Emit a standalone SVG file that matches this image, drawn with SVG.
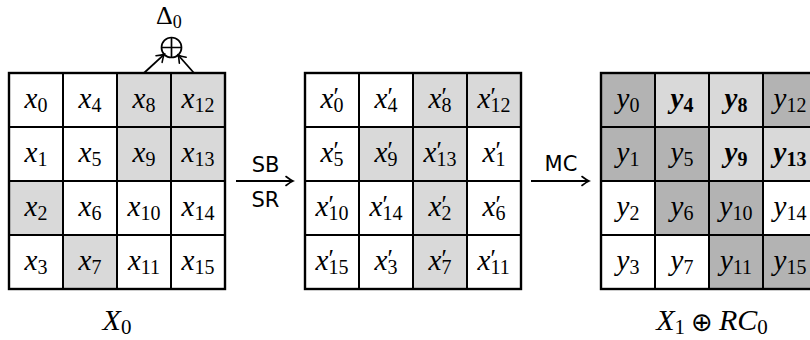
<svg xmlns="http://www.w3.org/2000/svg" width="810" height="340" viewBox="0 0 810 340">
<style>
.c{stroke:#000;stroke-width:2}
.w{fill:#fff}
.l{fill:#d9d9d9}
.d{fill:#b3b3b3}
.frame{fill:none;stroke:#000;stroke-width:2.4}
.m{font-family:"Liberation Serif",serif;font-size:29px;font-style:italic;fill:#000}
.s{font-size:20px;font-style:normal}
.b{font-weight:bold}
.p{font-style:normal;font-size:25px}
.op{font-family:"DejaVu Sans",sans-serif;font-size:21px;fill:#000}
.lab{font-family:"Liberation Serif",serif;font-size:30px;font-style:italic;fill:#000}
.lab .s{font-size:21px}
.dl{font-family:"Liberation Serif",serif;font-size:26px;fill:#000}
.dl .s{font-size:18px}
.xor{font-family:"DejaVu Sans",sans-serif;font-style:normal;font-size:26px}
.ln{fill:none;stroke:#000;stroke-width:1.8}
</style>
<defs>
<marker id="ah" markerUnits="userSpaceOnUse" markerWidth="12" markerHeight="12" viewBox="-10 -6 12 12" refX="0" refY="0" orient="auto">
<path d="M-7,-4.5 Q-2.5,-1 0,0 Q-2.5,1 -7,4.5" fill="none" stroke="#000" stroke-width="1.6" stroke-linecap="round"/>
</marker>
</defs>

<!-- state X0 -->
<g id="state-x">
<g id="x0"><rect class="c w" x="9" y="73" width="54" height="54"/><text class="m" x="36" y="108" text-anchor="middle">x<tspan class="s" dy="4">0</tspan></text></g>
<g id="x4"><rect class="c w" x="63" y="73" width="54" height="54"/><text class="m" x="90" y="108" text-anchor="middle">x<tspan class="s" dy="4">4</tspan></text></g>
<g id="x8"><rect class="c l" x="117" y="73" width="54" height="54"/><text class="m" x="144" y="108" text-anchor="middle">x<tspan class="s" dy="4">8</tspan></text></g>
<g id="x12"><rect class="c l" x="171" y="73" width="54" height="54"/><text class="m" x="198" y="108" text-anchor="middle">x<tspan class="s" dy="4">12</tspan></text></g>
<g id="x1"><rect class="c w" x="9" y="127" width="54" height="54"/><text class="m" x="36" y="162" text-anchor="middle">x<tspan class="s" dy="4">1</tspan></text></g>
<g id="x5"><rect class="c w" x="63" y="127" width="54" height="54"/><text class="m" x="90" y="162" text-anchor="middle">x<tspan class="s" dy="4">5</tspan></text></g>
<g id="x9"><rect class="c l" x="117" y="127" width="54" height="54"/><text class="m" x="144" y="162" text-anchor="middle">x<tspan class="s" dy="4">9</tspan></text></g>
<g id="x13"><rect class="c l" x="171" y="127" width="54" height="54"/><text class="m" x="198" y="162" text-anchor="middle">x<tspan class="s" dy="4">13</tspan></text></g>
<g id="x2"><rect class="c l" x="9" y="181" width="54" height="54"/><text class="m" x="36" y="216" text-anchor="middle">x<tspan class="s" dy="4">2</tspan></text></g>
<g id="x6"><rect class="c w" x="63" y="181" width="54" height="54"/><text class="m" x="90" y="216" text-anchor="middle">x<tspan class="s" dy="4">6</tspan></text></g>
<g id="x10"><rect class="c w" x="117" y="181" width="54" height="54"/><text class="m" x="144" y="216" text-anchor="middle">x<tspan class="s" dy="4">10</tspan></text></g>
<g id="x14"><rect class="c w" x="171" y="181" width="54" height="54"/><text class="m" x="198" y="216" text-anchor="middle">x<tspan class="s" dy="4">14</tspan></text></g>
<g id="x3"><rect class="c w" x="9" y="235" width="54" height="54"/><text class="m" x="36" y="270" text-anchor="middle">x<tspan class="s" dy="4">3</tspan></text></g>
<g id="x7"><rect class="c l" x="63" y="235" width="54" height="54"/><text class="m" x="90" y="270" text-anchor="middle">x<tspan class="s" dy="4">7</tspan></text></g>
<g id="x11"><rect class="c w" x="117" y="235" width="54" height="54"/><text class="m" x="144" y="270" text-anchor="middle">x<tspan class="s" dy="4">11</tspan></text></g>
<g id="x15"><rect class="c w" x="171" y="235" width="54" height="54"/><text class="m" x="198" y="270" text-anchor="middle">x<tspan class="s" dy="4">15</tspan></text></g>
<rect class="frame" x="9" y="73" width="216" height="216"/>
<text class="lab" x="117" y="330" text-anchor="middle">X<tspan class="s" dy="4">0</tspan></text>
</g>

<!-- difference injection -->
<g id="delta">
<text class="dl" x="156" y="24">Δ<tspan class="s" dy="4">0</tspan></text>
</g>
<g id="xor-node">
<circle cx="171.5" cy="47.5" r="10" fill="none" stroke="#000" stroke-width="1.7"/>
<path d="M161.5,47.5H181.5M171.5,37.5V57.5" stroke="#000" stroke-width="1.7"/>
</g>

<!-- state after SubBytes / ShiftRows -->
<g id="state-xp">
<g id="xp0"><rect class="c w" x="305" y="73" width="54" height="54"/><text class="m" x="320.5" y="108">x<tspan class="p" dy="-3">′</tspan><tspan class="s" x="333.5" dy="7">0</tspan></text></g>
<g id="xp4"><rect class="c w" x="359" y="73" width="54" height="54"/><text class="m" x="374.5" y="108">x<tspan class="p" dy="-3">′</tspan><tspan class="s" x="387.5" dy="7">4</tspan></text></g>
<g id="xp8"><rect class="c l" x="413" y="73" width="54" height="54"/><text class="m" x="428.5" y="108">x<tspan class="p" dy="-3">′</tspan><tspan class="s" x="441.5" dy="7">8</tspan></text></g>
<g id="xp12"><rect class="c l" x="467" y="73" width="54" height="54"/><text class="m" x="477.5" y="108">x<tspan class="p" dy="-3">′</tspan><tspan class="s" x="490.5" dy="7">12</tspan></text></g>
<g id="xp5"><rect class="c w" x="305" y="127" width="54" height="54"/><text class="m" x="320.5" y="162">x<tspan class="p" dy="-3">′</tspan><tspan class="s" x="333.5" dy="7">5</tspan></text></g>
<g id="xp9"><rect class="c l" x="359" y="127" width="54" height="54"/><text class="m" x="374.5" y="162">x<tspan class="p" dy="-3">′</tspan><tspan class="s" x="387.5" dy="7">9</tspan></text></g>
<g id="xp13"><rect class="c l" x="413" y="127" width="54" height="54"/><text class="m" x="423.5" y="162">x<tspan class="p" dy="-3">′</tspan><tspan class="s" x="436.5" dy="7">13</tspan></text></g>
<g id="xp1"><rect class="c w" x="467" y="127" width="54" height="54"/><text class="m" x="482.5" y="162">x<tspan class="p" dy="-3">′</tspan><tspan class="s" x="495.5" dy="7">1</tspan></text></g>
<g id="xp10"><rect class="c w" x="305" y="181" width="54" height="54"/><text class="m" x="315.5" y="216">x<tspan class="p" dy="-3">′</tspan><tspan class="s" x="328.5" dy="7">10</tspan></text></g>
<g id="xp14"><rect class="c w" x="359" y="181" width="54" height="54"/><text class="m" x="369.5" y="216">x<tspan class="p" dy="-3">′</tspan><tspan class="s" x="382.5" dy="7">14</tspan></text></g>
<g id="xp2"><rect class="c l" x="413" y="181" width="54" height="54"/><text class="m" x="428.5" y="216">x<tspan class="p" dy="-3">′</tspan><tspan class="s" x="441.5" dy="7">2</tspan></text></g>
<g id="xp6"><rect class="c w" x="467" y="181" width="54" height="54"/><text class="m" x="482.5" y="216">x<tspan class="p" dy="-3">′</tspan><tspan class="s" x="495.5" dy="7">6</tspan></text></g>
<g id="xp15"><rect class="c w" x="305" y="235" width="54" height="54"/><text class="m" x="315.5" y="270">x<tspan class="p" dy="-3">′</tspan><tspan class="s" x="328.5" dy="7">15</tspan></text></g>
<g id="xp3"><rect class="c w" x="359" y="235" width="54" height="54"/><text class="m" x="374.5" y="270">x<tspan class="p" dy="-3">′</tspan><tspan class="s" x="387.5" dy="7">3</tspan></text></g>
<g id="xp7"><rect class="c l" x="413" y="235" width="54" height="54"/><text class="m" x="428.5" y="270">x<tspan class="p" dy="-3">′</tspan><tspan class="s" x="441.5" dy="7">7</tspan></text></g>
<g id="xp11"><rect class="c w" x="467" y="235" width="54" height="54"/><text class="m" x="477.5" y="270">x<tspan class="p" dy="-3">′</tspan><tspan class="s" x="490.5" dy="7">11</tspan></text></g>
<rect class="frame" x="305" y="73" width="216" height="216"/>
</g>

<!-- state after MixColumns and round constant -->
<g id="state-y">
<g id="y0"><rect class="c d" x="601" y="73" width="54" height="54"/><text class="m" x="628" y="108" text-anchor="middle">y<tspan class="s" dy="4">0</tspan></text></g>
<g id="y4"><rect class="c l" x="655" y="73" width="54" height="54"/><text class="m b" x="682" y="108" text-anchor="middle">y<tspan class="s" dy="4">4</tspan></text></g>
<g id="y8"><rect class="c l" x="709" y="73" width="54" height="54"/><text class="m b" x="736" y="108" text-anchor="middle">y<tspan class="s" dy="4">8</tspan></text></g>
<g id="y12"><rect class="c d" x="763" y="73" width="54" height="54"/><text class="m" x="790" y="108" text-anchor="middle">y<tspan class="s" dy="4">12</tspan></text></g>
<g id="y1"><rect class="c d" x="601" y="127" width="54" height="54"/><text class="m" x="628" y="162" text-anchor="middle">y<tspan class="s" dy="4">1</tspan></text></g>
<g id="y5"><rect class="c d" x="655" y="127" width="54" height="54"/><text class="m" x="682" y="162" text-anchor="middle">y<tspan class="s" dy="4">5</tspan></text></g>
<g id="y9"><rect class="c l" x="709" y="127" width="54" height="54"/><text class="m b" x="736" y="162" text-anchor="middle">y<tspan class="s" dy="4">9</tspan></text></g>
<g id="y13"><rect class="c l" x="763" y="127" width="54" height="54"/><text class="m b" x="790" y="162" text-anchor="middle">y<tspan class="s" dy="4">13</tspan></text></g>
<g id="y2"><rect class="c w" x="601" y="181" width="54" height="54"/><text class="m" x="628" y="216" text-anchor="middle">y<tspan class="s" dy="4">2</tspan></text></g>
<g id="y6"><rect class="c d" x="655" y="181" width="54" height="54"/><text class="m" x="682" y="216" text-anchor="middle">y<tspan class="s" dy="4">6</tspan></text></g>
<g id="y10"><rect class="c d" x="709" y="181" width="54" height="54"/><text class="m" x="736" y="216" text-anchor="middle">y<tspan class="s" dy="4">10</tspan></text></g>
<g id="y14"><rect class="c w" x="763" y="181" width="54" height="54"/><text class="m" x="790" y="216" text-anchor="middle">y<tspan class="s" dy="4">14</tspan></text></g>
<g id="y3"><rect class="c w" x="601" y="235" width="54" height="54"/><text class="m" x="628" y="270" text-anchor="middle">y<tspan class="s" dy="4">3</tspan></text></g>
<g id="y7"><rect class="c w" x="655" y="235" width="54" height="54"/><text class="m" x="682" y="270" text-anchor="middle">y<tspan class="s" dy="4">7</tspan></text></g>
<g id="y11"><rect class="c d" x="709" y="235" width="54" height="54"/><text class="m" x="736" y="270" text-anchor="middle">y<tspan class="s" dy="4">11</tspan></text></g>
<g id="y15"><rect class="c d" x="763" y="235" width="54" height="54"/><text class="m" x="790" y="270" text-anchor="middle">y<tspan class="s" dy="4">15</tspan></text></g>
<rect class="frame" x="601" y="73" width="216" height="216"/>
<text class="lab" x="712" y="330" text-anchor="middle">X<tspan class="s" dy="4">1</tspan><tspan class="xor" dx="6" dy="-3">⊕</tspan><tspan dx="6" dy="-1">RC</tspan><tspan class="s" dy="4">0</tspan></text>
</g>

<!-- connectors -->
<g id="connectors">
<path class="ln" d="M144,73L164.2,54.3" marker-end="url(#ah)"/>
<path class="ln" d="M194,73L178.1,55" marker-end="url(#ah)"/>
<path class="ln" d="M236,181H293" marker-end="url(#ah)"/>
<text class="op" x="265.5" y="172" text-anchor="middle">SB</text>
<text class="op" x="265.5" y="207" text-anchor="middle">SR</text>
<path class="ln" d="M531,181H589" marker-end="url(#ah)"/>
<text class="op" x="561" y="171" text-anchor="middle">MC</text>
</g>
</svg>
